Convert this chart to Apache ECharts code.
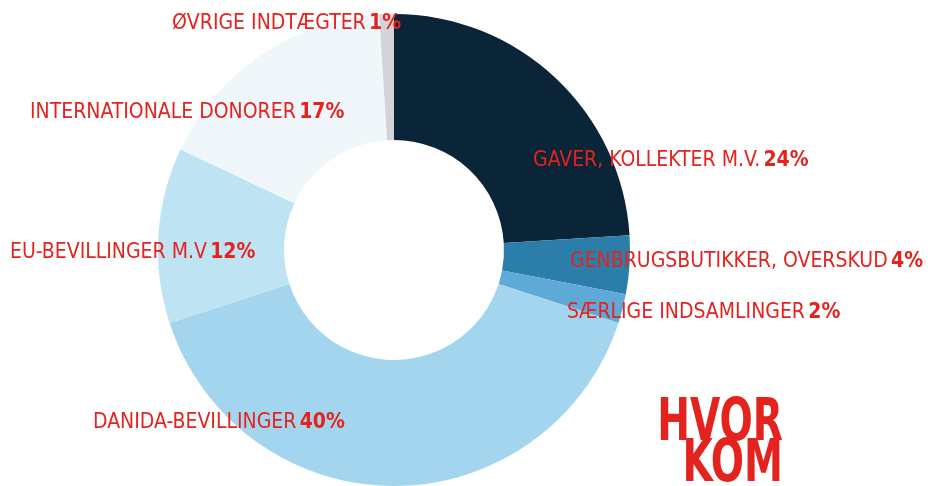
<!DOCTYPE html>
<html>
<head>
<meta charset="utf-8">
<script src="https://cdn.jsdelivr.net/npm/echarts@6/dist/echarts.min.js"></script>
<style>
  html, body { margin: 0; padding: 0; background: #fff; }
  #main { width: 928px; height: 486px; }
</style>
</head>
<body>
<div id="main"></div>
<script>
var names = ['GAVER, KOLLEKTER M.V.', 'GENBRUGSBUTIKKER, OVERSKUD', 'SÆRLIGE INDSAMLINGER',
  'DANIDA-BEVILLINGER', 'EU-BEVILLINGER M.V', 'INTERNATIONALE DONORER', 'ØVRIGE INDTÆGTER'];
var shares = [24, 4, 2, 40, 12, 17, 1];
var colors = ['#0b2538', '#2b7ea9', '#5fa9d6', '#a3d6ee', '#bee3f3', '#eff7fb', '#d3d3d8'];

// where each label sits (left x, middle y)
var labelPos = [[533, 161], [570, 262], [567, 313], [93, 423], [10, 253], [30, 113], [172, 24]];

var myChart = echarts.init(document.getElementById('main'));

var font = "'DejaVu Sans Condensed', 'Liberation Sans Narrow', sans-serif";

var option = {
  animation: false,
  series: [
    {
      type: 'pie',
      center: [394, 250],
      radius: [110, 236],
      startAngle: 90,
      clockwise: true,
      silent: true,
      itemStyle: { borderWidth: 0 },
      label: {
        show: true,
        position: 'inside',
        overflow: 'none',
        formatter: function (p) {
          return '{n|' + p.name + '} {p|' + p.value + '%}';
        },
        rich: {
          n: { color: '#e4231f', fontSize: 21, fontFamily: font },
          p: { color: '#e4231f', fontSize: 21, fontWeight: 'bold', fontFamily: font }
        }
      },
      labelLine: { show: false },
      labelLayout: function (params) {
        var pos = labelPos[params.dataIndex];
        return { x: pos[0], y: pos[1], align: 'left', verticalAlign: 'middle' };
      },
      data: names.map(function (n, i) {
        return { name: n, value: shares[i], itemStyle: { color: colors[i] } };
      })
    }
  ],
  graphic: [
    {
      type: 'text',
      x: 783,
      y: 396,
      scaleX: 0.75,
      style: {
        text: 'HVOR',
        fill: '#e4231f',
        font: 'bold 58px ' + font,
        align: 'right'
      }
    },
    {
      type: 'text',
      x: 783,
      y: 437,
      scaleX: 0.75,
      style: {
        text: 'KOM',
        fill: '#e4231f',
        font: 'bold 58px ' + font,
        align: 'right'
      }
    }
  ]
};

myChart.setOption(option);
</script>
</body>
</html>
